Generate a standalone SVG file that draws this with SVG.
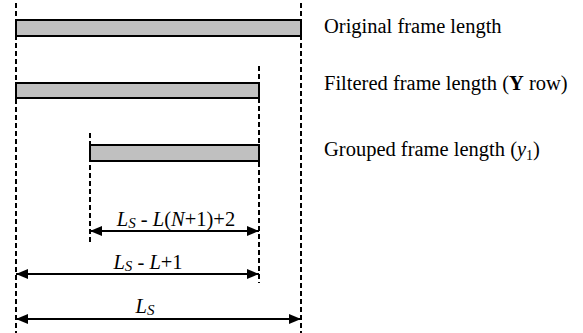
<svg xmlns="http://www.w3.org/2000/svg" width="583" height="333" viewBox="0 0 583 333">
<style>
.bar{fill:#c0c0c0;stroke:#000;stroke-width:2}
.dash{stroke:#000;stroke-width:2;stroke-dasharray:5,3;fill:none}
.dim{stroke:#000;stroke-width:2;fill:none}
text{font-family:"Liberation Serif","Times New Roman",serif;font-size:20.5px;fill:#000}
.it{font-style:italic}
</style>
<defs>
<marker id="ah" viewBox="0 0 12 10" refX="12" refY="5" markerWidth="12" markerHeight="10" markerUnits="userSpaceOnUse" orient="auto-start-reverse">
<path d="M0,0 L12,5 L0,10 Z" fill="#000"/>
</marker>
</defs>
<g id="guides">
<line class="dash" x1="16" y1="3" x2="16" y2="333"/>
<line class="dash" x1="301" y1="3" x2="301" y2="333"/>
<line class="dash" x1="259" y1="66" x2="259" y2="283"/>
<line class="dash" x1="90" y1="133" x2="90" y2="242"/>
</g>
<g id="original">
<rect class="bar" x="16" y="20" width="285" height="16"/>
<text x="324" y="33">Original frame length</text>
</g>
<g id="filtered">
<rect class="bar" x="16" y="83" width="243" height="15"/>
<text x="324" y="90">Filtered frame length (<tspan font-weight="bold">Y</tspan> row)</text>
</g>
<g id="grouped">
<rect class="bar" x="90" y="145" width="169" height="16"/>
<text x="324" y="156">Grouped frame length (<tspan class="it">y</tspan><tspan font-size="14" dy="4">1</tspan><tspan dy="-4">)</tspan></text>
</g>
<g id="connectors">
<line class="dim" x1="90" y1="231" x2="259" y2="231" marker-start="url(#ah)" marker-end="url(#ah)"/>
<line class="dim" x1="16" y1="274" x2="259" y2="274" marker-start="url(#ah)" marker-end="url(#ah)"/>
<line class="dim" x1="16" y1="319" x2="301" y2="319" marker-start="url(#ah)" marker-end="url(#ah)"/>
</g>
<g id="labels">
<text x="176" y="226" text-anchor="middle"><tspan class="it">L</tspan><tspan class="it" font-size="15" dy="2">S</tspan><tspan dy="-2"> - </tspan><tspan class="it">L</tspan>(<tspan class="it">N</tspan>+1)+2</text>
<text x="148" y="269" text-anchor="middle"><tspan class="it">L</tspan><tspan class="it" font-size="15" dy="2">S</tspan><tspan dy="-2"> - </tspan><tspan class="it">L</tspan>+1</text>
<text x="145" y="313" text-anchor="middle"><tspan class="it">L</tspan><tspan class="it" font-size="15" dy="2">S</tspan></text>
</g>
</svg>
